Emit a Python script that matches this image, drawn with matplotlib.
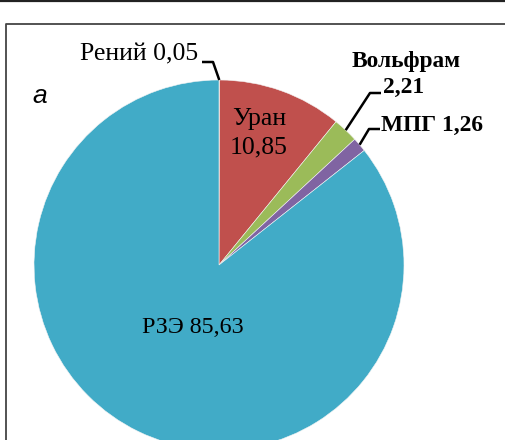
import numpy as np
import matplotlib.pyplot as plt

# shares, %
labels = ["Рений", "Уран", "Вольфрам", "МПГ", "РЗЭ"]
values = [0.05, 10.85, 2.21, 1.26, 85.63]
value_text = ["0,05", "10,85", "2,21", "1,26", "85,63"]
colors = ["#E8D630", "#C0504D", "#9BBB59", "#8064A2", "#41ABC7"]

W, H = 506, 440
cx, cy, R = 219, 265, 185   # pie centre / radius in pixels


def px(x, y):
    """pixel position -> data coords"""
    return (x - cx) / R, (cy - y) / R


fig = plt.figure(figsize=(W / 100, H / 100), dpi=100)
ax = fig.add_axes([0, 0, 1, 1])
ax.axis("off")

wedges, _ = ax.pie(values, colors=colors, startangle=90, counterclock=False,
                   radius=1, center=(0, 0),
                   wedgeprops=dict(edgecolor="#f4f4f4", linewidth=0.4))
ax.set_aspect("auto")
ax.set_xlim(-cx / R, (W - cx) / R)
ax.set_ylim((cy - H) / R, cy / R)


def edge(i):
    w = wedges[i]
    a = np.deg2rad((w.theta1 + w.theta2) / 2)
    return np.cos(a), np.sin(a)


serif = "Liberation Serif"

# leader lines: pie edge -> elbow -> short horizontal
leaders = {0: [(213, 62), (202, 62)], 2: [(370, 93), (381, 93)], 3: [(369, 129), (380, 129)]}
for i, pts in leaders.items():
    ex, ey = edge(i)
    xs = [ex] + [px(*p)[0] for p in pts]
    ys = [ey] + [px(*p)[1] for p in pts]
    ax.plot(xs, ys, color="black", lw=1.8, solid_capstyle="butt")

ax.text(*px(198, 60), f"{labels[0]} {value_text[0]}", ha="right", va="baseline",
        family=serif, fontsize=18.5)
ax.text(*px(259, 125), labels[1], ha="center", va="baseline", family=serif, fontsize=18.5)
ax.text(*px(259, 153), value_text[1], ha="center", va="baseline", family=serif, fontsize=18.5)
ax.text(*px(406, 67), labels[2], ha="center", va="baseline", family=serif,
        fontsize=16.8, fontweight="bold")
ax.text(*px(404, 93), value_text[2], ha="center", va="baseline", family=serif,
        fontsize=16.8, fontweight="bold")
ax.text(*px(381, 131), f"{labels[3]} {value_text[3]}", ha="left", va="baseline",
        family=serif, fontsize=16.8, fontweight="bold")
ax.text(*px(193, 333), f"{labels[4]} {value_text[4]}", ha="center", va="baseline",
        family=serif, fontsize=17.3)

# panel letter
ax.text(*px(32, 103), "а", ha="left", va="baseline", family="Liberation Sans",
        style="italic", fontsize=19)

# frame lines
fig.add_artist(plt.Line2D([0, 1], [1 - 1 / H, 1 - 1 / H], transform=fig.transFigure,
                          color="#222222", lw=1.6))
fig.add_artist(plt.Line2D([6.5 / W, 6.5 / W, 1], [0, 1 - 24 / H, 1 - 24 / H],
                          transform=fig.transFigure, color="#444444", lw=1.3))

fig.savefig("out.png", dpi=100)
